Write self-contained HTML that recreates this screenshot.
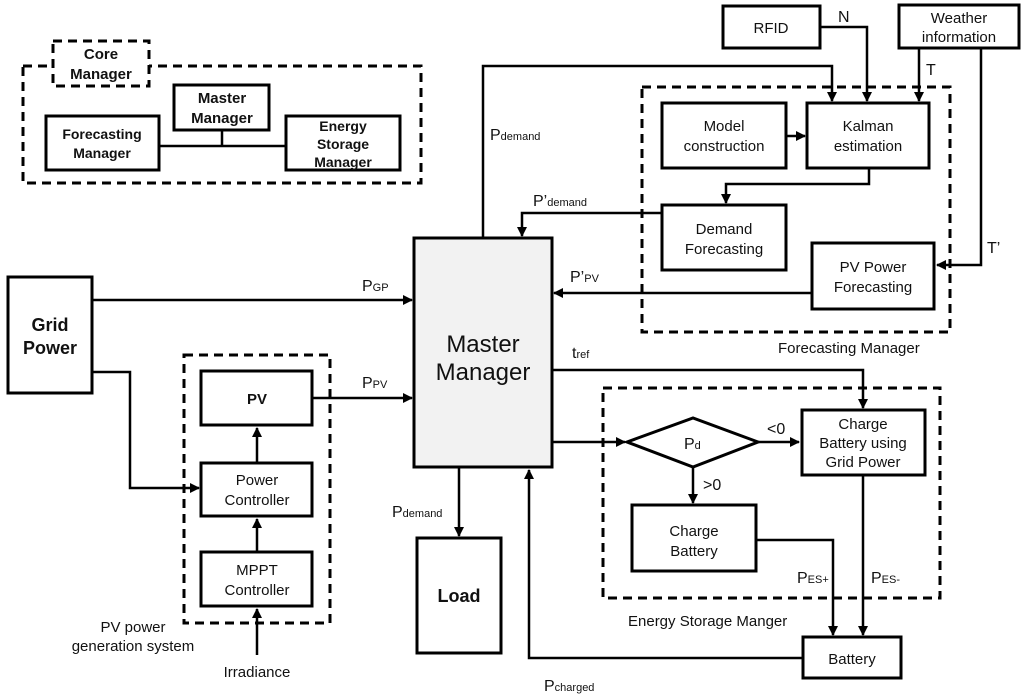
<!DOCTYPE html>
<html><head><meta charset="utf-8"><style>
html,body{margin:0;padding:0;background:#fff}
svg{display:block;font-family:"Liberation Sans",sans-serif}
text{fill:#111}
.b{fill:#fff;stroke:#000;stroke-width:3}
.d{fill:none;stroke:#000;stroke-width:3;stroke-dasharray:9,6}
.l{fill:none;stroke:#000;stroke-width:2.5}
</style></head><body>
<svg width="1024" height="696" viewBox="0 0 1024 696" xmlns="http://www.w3.org/2000/svg">
<defs><marker id="a" viewBox="0 0 10 10" refX="9" refY="5" markerWidth="4" markerHeight="4" orient="auto"><path d="M0,0L10,5L0,10z" fill="#000"/></marker></defs>

<!-- Core manager legend -->
<rect class="d" x="23" y="66" width="398" height="117"/>
<rect x="53" y="41" width="96" height="45" fill="#fff" stroke="#000" stroke-width="3" stroke-dasharray="9,6"/>
<text x="101" y="59" font-size="15" font-weight="bold" text-anchor="middle">Core</text>
<text x="101" y="79" font-size="15" font-weight="bold" text-anchor="middle">Manager</text>
<path class="l" d="M159,146H286M222,130V146"/>
<rect class="b" x="174" y="85" width="95" height="45"/>
<text x="222" y="103" font-size="15" font-weight="bold" text-anchor="middle">Master</text>
<text x="222" y="123" font-size="15" font-weight="bold" text-anchor="middle">Manager</text>
<rect class="b" x="46" y="116" width="113" height="54"/>
<text x="102" y="139" font-size="14" font-weight="bold" text-anchor="middle">Forecasting</text>
<text x="102" y="158" font-size="14" font-weight="bold" text-anchor="middle">Manager</text>
<rect class="b" x="286" y="116" width="114" height="54"/>
<text x="343" y="131" font-size="14" font-weight="bold" text-anchor="middle">Energy</text>
<text x="343" y="149" font-size="14" font-weight="bold" text-anchor="middle">Storage</text>
<text x="343" y="167" font-size="14" font-weight="bold" text-anchor="middle">Manager</text>

<!-- dashed groups -->
<rect class="d" x="642" y="87" width="308" height="245"/>
<rect class="d" x="603" y="388" width="337" height="210"/>
<rect class="d" x="184" y="355" width="146" height="268"/>

<!-- connectors -->
<path class="l" d="M483,238V66H832V101" marker-end="url(#a)"/>
<path class="l" d="M820,27H867V101" marker-end="url(#a)"/>
<path class="l" d="M919,48V101" marker-end="url(#a)"/>
<path class="l" d="M981,48V265H937" marker-end="url(#a)"/>
<path class="l" d="M786,136H805" marker-end="url(#a)"/>
<path class="l" d="M869,168V184H726V203" marker-end="url(#a)"/>
<path class="l" d="M662,213H522V236" marker-end="url(#a)"/>
<path class="l" d="M812,293H554" marker-end="url(#a)"/>
<path class="l" d="M92,300H412" marker-end="url(#a)"/>
<path class="l" d="M92,372H130V488H199" marker-end="url(#a)"/>
<path class="l" d="M312,398H412" marker-end="url(#a)"/>
<path class="l" d="M257,463V428" marker-end="url(#a)"/>
<path class="l" d="M257,552V519" marker-end="url(#a)"/>
<path class="l" d="M257,655V609" marker-end="url(#a)"/>
<path class="l" d="M459,467V536" marker-end="url(#a)"/>
<path class="l" d="M552,370H863V408" marker-end="url(#a)"/>
<path class="l" d="M552,442H625" marker-end="url(#a)"/>
<path class="l" d="M758,442H799" marker-end="url(#a)"/>
<path class="l" d="M693,467V503" marker-end="url(#a)"/>
<path class="l" d="M756,540H833V635" marker-end="url(#a)"/>
<path class="l" d="M863,475V635" marker-end="url(#a)"/>
<path class="l" d="M803,658H529V470" marker-end="url(#a)"/>

<!-- boxes -->
<rect x="414" y="238" width="138" height="229" fill="#f2f2f2" stroke="#000" stroke-width="3"/>
<text x="483" y="352" font-size="24" text-anchor="middle">Master</text>
<text x="483" y="380" font-size="24" text-anchor="middle">Manager</text>

<rect class="b" x="8" y="277" width="84" height="116"/>
<text x="50" y="331" font-size="18" font-weight="bold" text-anchor="middle">Grid</text>
<text x="50" y="354" font-size="18" font-weight="bold" text-anchor="middle">Power</text>

<rect class="b" x="201" y="371" width="111" height="54"/>
<text x="257" y="404" font-size="15" font-weight="bold" text-anchor="middle">PV</text>
<rect class="b" x="201" y="463" width="111" height="53"/>
<text x="257" y="485" font-size="15" text-anchor="middle">Power</text>
<text x="257" y="505" font-size="15" text-anchor="middle">Controller</text>
<rect class="b" x="201" y="552" width="111" height="54"/>
<text x="257" y="575" font-size="15" text-anchor="middle">MPPT</text>
<text x="257" y="595" font-size="15" text-anchor="middle">Controller</text>

<rect class="b" x="417" y="538" width="84" height="115"/>
<text x="459" y="602" font-size="18" font-weight="bold" text-anchor="middle">Load</text>

<rect class="b" x="723" y="6" width="97" height="42"/>
<text x="771" y="33" font-size="15" text-anchor="middle">RFID</text>
<rect class="b" x="899" y="5" width="120" height="43"/>
<text x="959" y="23" font-size="15" text-anchor="middle">Weather</text>
<text x="959" y="42" font-size="15" text-anchor="middle">information</text>

<rect class="b" x="662" y="103" width="124" height="65"/>
<text x="724" y="131" font-size="15" text-anchor="middle">Model</text>
<text x="724" y="151" font-size="15" text-anchor="middle">construction</text>
<rect class="b" x="807" y="103" width="122" height="65"/>
<text x="868" y="131" font-size="15" text-anchor="middle">Kalman</text>
<text x="868" y="151" font-size="15" text-anchor="middle">estimation</text>
<rect class="b" x="662" y="205" width="124" height="65"/>
<text x="724" y="234" font-size="15" text-anchor="middle">Demand</text>
<text x="724" y="254" font-size="15" text-anchor="middle">Forecasting</text>
<rect class="b" x="812" y="243" width="122" height="66"/>
<text x="873" y="272" font-size="15" text-anchor="middle">PV Power</text>
<text x="873" y="292" font-size="15" text-anchor="middle">Forecasting</text>

<polygon points="627,442 693,418 758,442 693,467" fill="#fff" stroke="#000" stroke-width="3"/>
<text x="684" y="449" font-size="16">P<tspan font-size="11">d</tspan></text>
<rect class="b" x="802" y="410" width="123" height="65"/>
<text x="863" y="429" font-size="15" text-anchor="middle">Charge</text>
<text x="863" y="448" font-size="15" text-anchor="middle">Battery using</text>
<text x="863" y="467" font-size="15" text-anchor="middle">Grid Power</text>
<rect class="b" x="632" y="505" width="124" height="66"/>
<text x="694" y="536" font-size="15" text-anchor="middle">Charge</text>
<text x="694" y="556" font-size="15" text-anchor="middle">Battery</text>
<rect class="b" x="803" y="637" width="98" height="41"/>
<text x="852" y="664" font-size="15" text-anchor="middle">Battery</text>

<!-- labels -->
<text x="490" y="140" font-size="16">P<tspan font-size="11">demand</tspan></text>
<text x="533" y="206" font-size="16">P’<tspan font-size="11">demand</tspan></text>
<text x="570" y="282" font-size="16">P’<tspan font-size="11">PV</tspan></text>
<text x="362" y="291" font-size="16">P<tspan font-size="11">GP</tspan></text>
<text x="362" y="388" font-size="16">P<tspan font-size="11">PV</tspan></text>
<text x="572" y="358" font-size="16">t<tspan font-size="11">ref</tspan></text>
<text x="392" y="517" font-size="16">P<tspan font-size="11">demand</tspan></text>
<text x="544" y="691" font-size="16">P<tspan font-size="11">charged</tspan></text>
<text x="797" y="583" font-size="16">P<tspan font-size="11">ES+</tspan></text>
<text x="871" y="583" font-size="16">P<tspan font-size="11">ES-</tspan></text>
<text x="767" y="434" font-size="16">&lt;0</text>
<text x="703" y="490" font-size="16">&gt;0</text>
<text x="838" y="22" font-size="16">N</text>
<text x="926" y="75" font-size="16">T</text>
<text x="987" y="253" font-size="16">T’</text>
<text x="778" y="353" font-size="15">Forecasting Manager</text>
<text x="628" y="626" font-size="15">Energy Storage Manger</text>
<text x="133" y="632" font-size="15" text-anchor="middle">PV power</text>
<text x="133" y="651" font-size="15" text-anchor="middle">generation system</text>
<text x="257" y="677" font-size="15" text-anchor="middle">Irradiance</text>
</svg>
</body></html>
